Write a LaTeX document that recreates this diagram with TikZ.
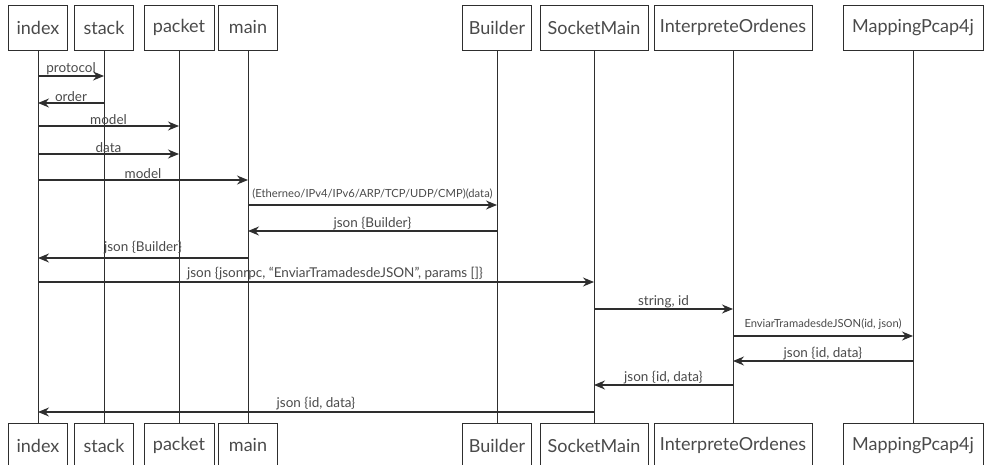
\documentclass[tikz,border=0pt]{standalone}
\usepackage{fontspec}
\setmainfont{Lato}
\usetikzlibrary{arrows.meta}
\definecolor{ink}{HTML}{2E2E2E}
\definecolor{txt}{HTML}{4A4A4A}

\tikzset{
  actor/.style={draw=ink, line width=0.9pt, minimum height=45pt, inner sep=0pt,
                font=\fontsize{18}{20}\selectfont, text=txt},
  lifeline/.style={draw=ink, line width=0.9pt},
  call/.style={draw=ink, line width=1.1pt, -{Stealth[length=11pt,width=9pt]}},
  lbl/.style={font=\fontsize{13.5}{15}\selectfont, text=txt, anchor=south, inner sep=0.6pt},
  smalllbl/.style={font=\fontsize{11.2}{13}\selectfont, yshift=5pt}
}

% one message between two lifelines at height #4
\newcommand\sqcall[5][]{%
  \draw[call] (t-#2 |- 0,#4) -- node[lbl,#1]{#5} (t-#3 |- 0,#4);}

\begin{document}
\begin{tikzpicture}[x=1pt,y=-1pt]
\useasboundingbox (0,0) rectangle (985,465);

% participants, repeated at the foot, joined by lifelines
\foreach \n/\x/\w in {index/38/59, stack/104/59, packet/179/70, main/248/59,
                      Builder/497/69, SocketMain/594/108,
                      InterpreteOrdenes/733/158, MappingPcap4j/913/140} {
  \node[actor, minimum width=\w pt] (t-\n) at (\x,27.5) {\n};
  \node[actor, minimum width=\w pt] (b-\n) at (\x,445.5) {\n};
  \draw[lifeline] (t-\n) -- (b-\n);
}

% messages
\sqcall{index}{stack}{76}{protocol}
\sqcall{stack}{index}{103}{order}
\sqcall{index}{packet}{126}{model}
\sqcall{index}{packet}{154}{data}
\sqcall{index}{main}{180}{model}
\sqcall[smalllbl]{main}{Builder}{205}{(Etherneo/IPv4/IPv6/ARP/TCP/UDP/CMP)(data)}
\sqcall{Builder}{main}{231}{json \{Builder\}}
\sqcall[yshift=3pt]{main}{index}{258}{json \{Builder\}}
\sqcall[xshift=19pt,yshift=1pt]{index}{SocketMain}{282}{json \{jsonrpc, “EnviarTramadesdeJSON”, params []\}}
\sqcall{SocketMain}{InterpreteOrdenes}{309}{string, id}
\sqcall[smalllbl]{InterpreteOrdenes}{MappingPcap4j}{336}{EnviarTramadesdeJSON(id, json)}
\sqcall{MappingPcap4j}{InterpreteOrdenes}{361}{json \{id, data\}}
\sqcall{InterpreteOrdenes}{SocketMain}{385}{json \{id, data\}}
\sqcall[yshift=1pt]{SocketMain}{index}{412}{json \{id, data\}}
\end{tikzpicture}
\end{document}
